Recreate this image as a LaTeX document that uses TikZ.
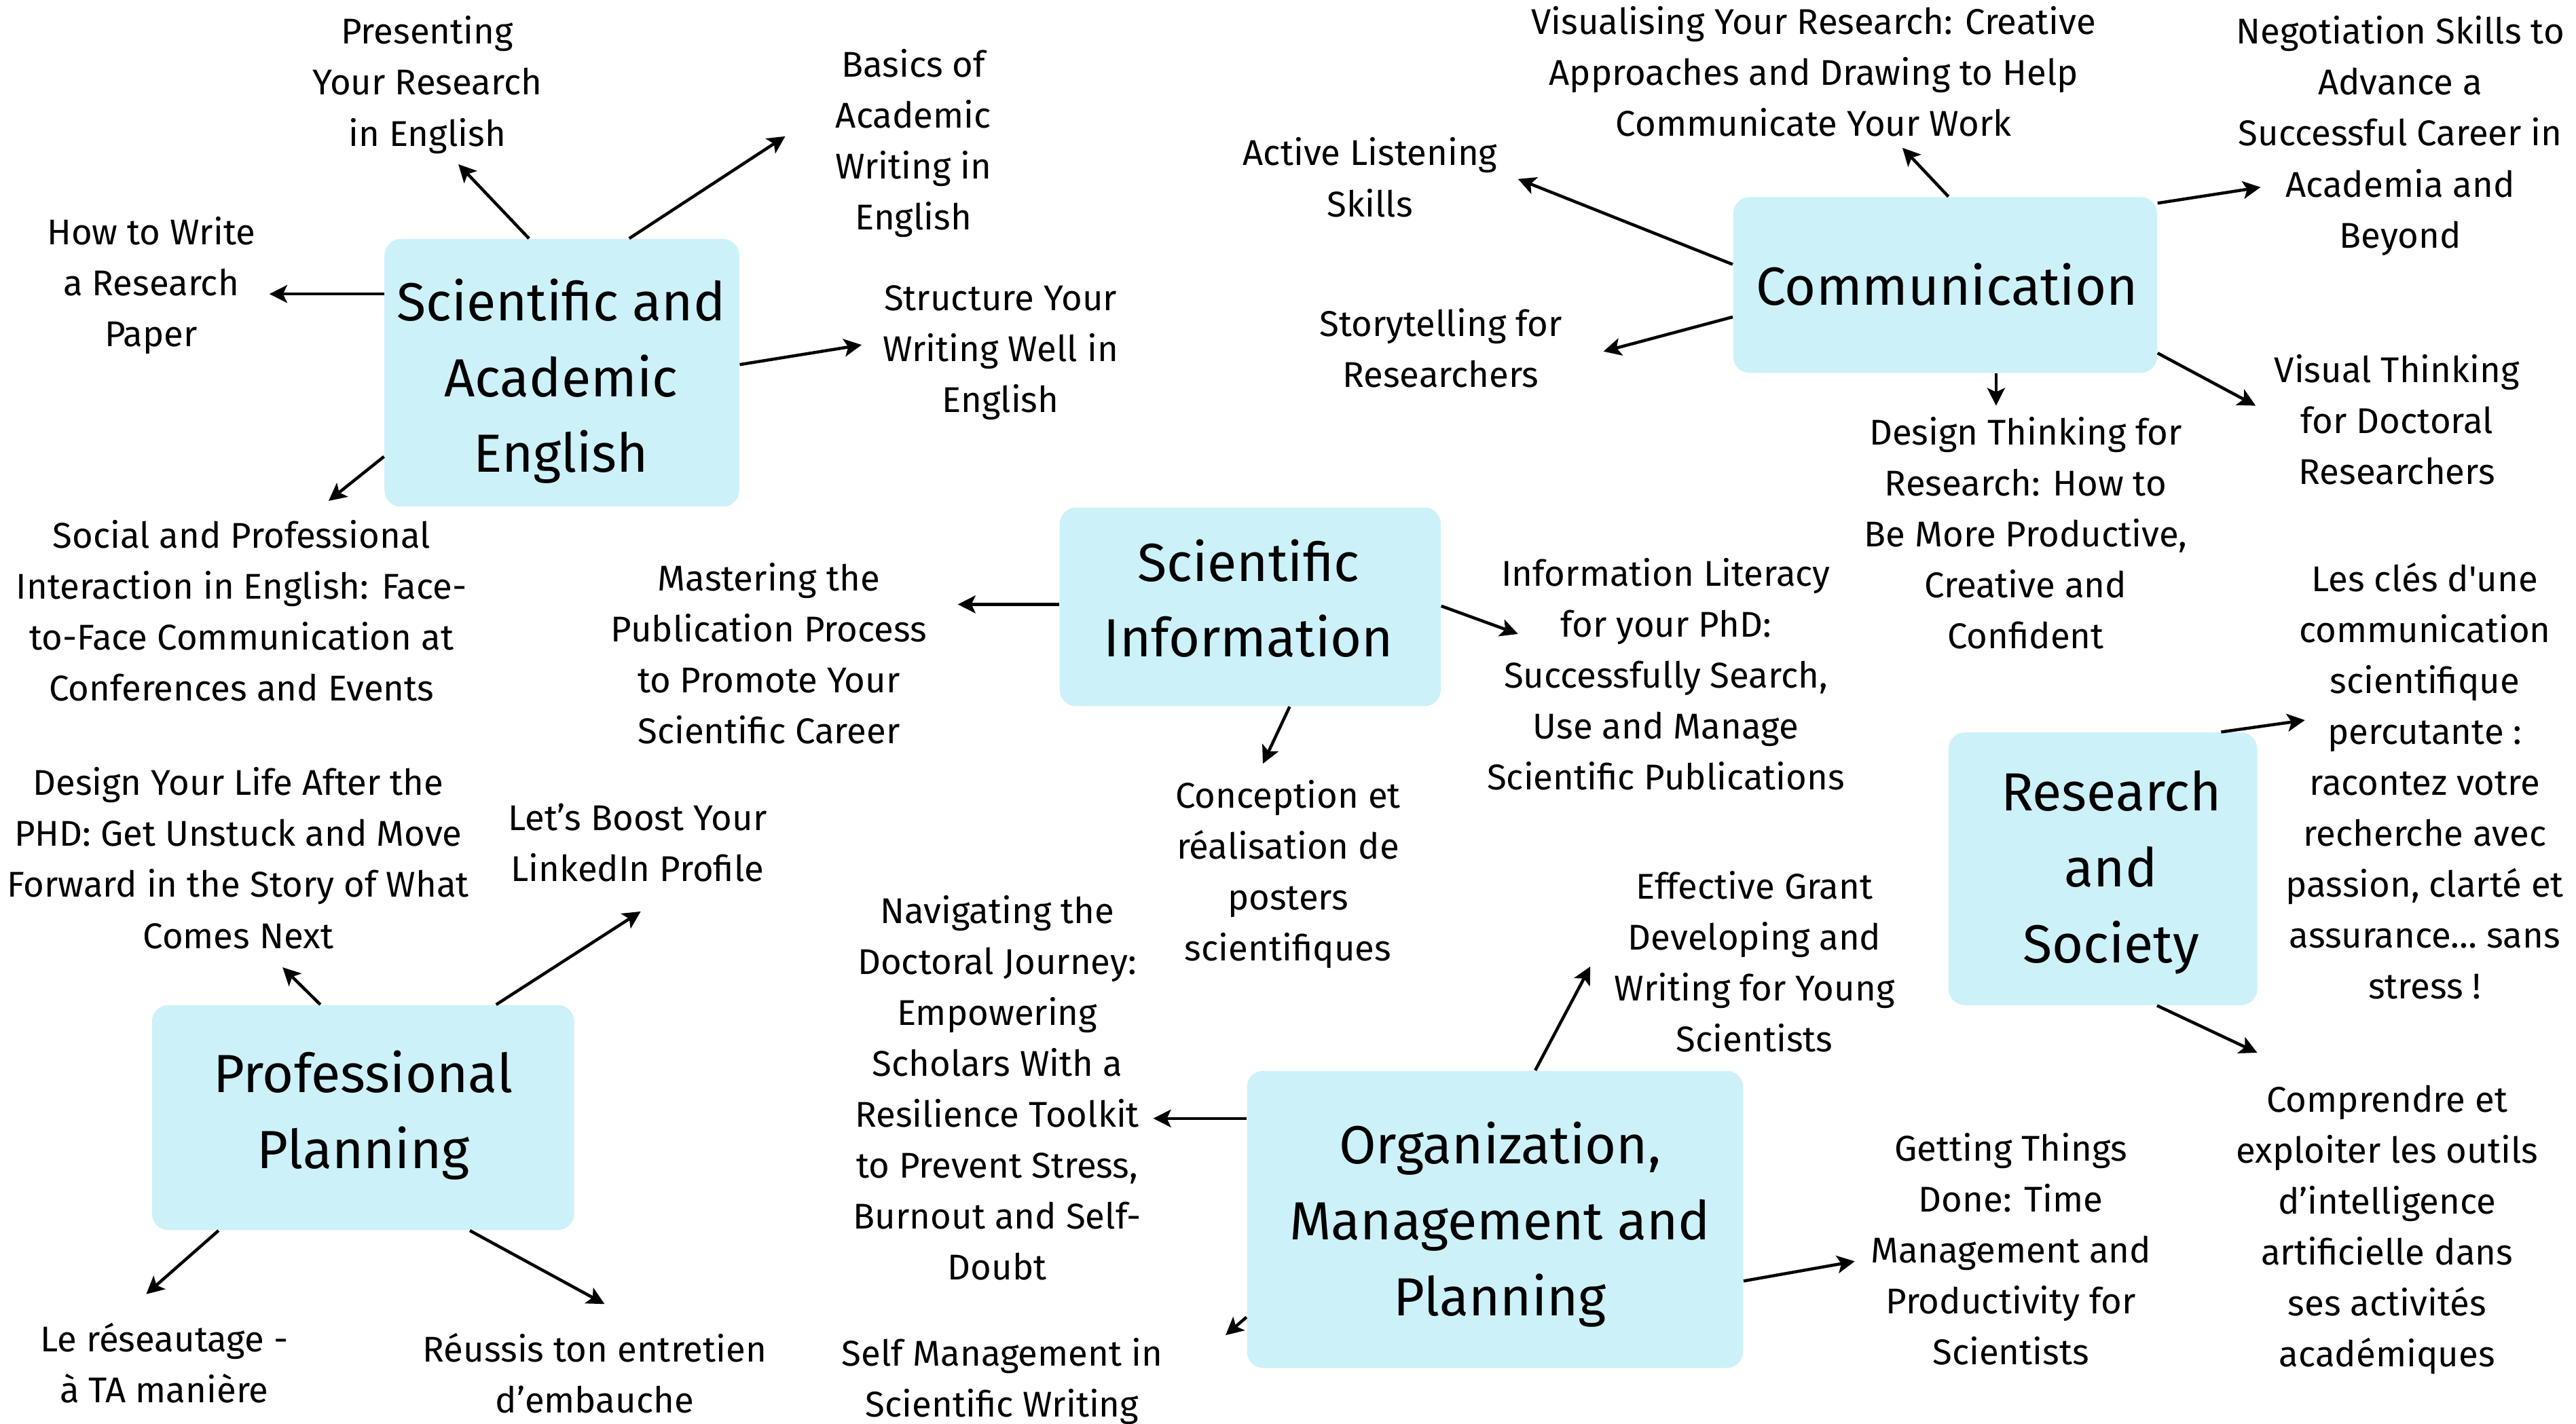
\documentclass[tikz,border=0pt]{standalone}
\usepackage{fontspec}
\setmainfont{Fira Sans}
\newfontfamily\nolig{Fira Sans}[Ligatures=TeXOff]
\usetikzlibrary{arrows.meta,calc}
\definecolor{boxc}{HTML}{CDF1F9}
\begin{document}
\begin{tikzpicture}[x=0.24196mm,y=-0.24196mm,
  box/.style={fill=boxc, rounded corners=2.4mm, inner sep=0pt},
  head/.style={align=center, inner sep=0pt, font=\fontsize{22.5}{31.8}\selectfont,
    execute at begin node=\strut, execute at end node=\strut},
  lbl/.style={align=center, inner sep=0pt, font=\fontsize{15}{21.35}\selectfont,
    execute at begin node=\strut, execute at end node=\strut},
  arr/.style={line width=0.45mm, -{Stealth[length=2.6mm,width=2.6mm,inset=0.6mm]}}]
\useasboundingbox (0,0) rectangle (1568,867);

% ---------- boxes ----------
\node[box, minimum width=52.26mm, minimum height=39.44mm] (sae) at (342,227) {};
\node[box, minimum width=62.43mm, minimum height=25.89mm] (com) at (1184,173.5) {};
\node[box, minimum width=56.13mm, minimum height=29.28mm] (sci) at (761,369.5) {};
\node[box, minimum width=45.49mm, minimum height=40.17mm] (res) at (1280,529) {};
\node[box, minimum width=62.18mm, minimum height=33.15mm] (pro) at (221,680.5) {};
\node[box, minimum width=73.07mm, minimum height=43.79mm] (org) at (910,742.5) {};

% ---------- box titles ----------
\node[head] (saeT) at (341.5,235.6) {Scientific and\\Academic\\English};
\node[head] (comT) at (1185,176.6) {Communication};
\node[head] (sciT) at (760,371.1) {Scientific\\Information};
\node[head] (resT) at (1285,534.6) {Research\\and\\Society};
\node[head] (proT) at (221,682.6) {Professional\\Planning};
\node[head] (orgT) at (913,749.1) {Organization,\\Management and\\Planning};

% ---------- labels ----------
\node[lbl] (presenting) at (260,54) {Presenting\\Your Research\\in English};
\node[lbl] (basics) at (556,89.5) {Basics of\\Academic\\Writing in\\English};
\node[lbl] (howto) at (92,176) {How to Write\\a Research\\Paper};
\node[lbl] (structure) at (609,217) {Structure Your\\Writing Well in\\English};
\node[lbl] (social) at (147,376.5) {Social and Professional\\Interaction in English: Face-\\to-Face Communication at\\Conferences and Events};

\node[lbl] (visualising) at (1104,48) {Visualising Your Research: Creative\\Approaches and Drawing to Help\\Communicate Your Work};
\node[lbl] (negotiation) at (1461,85) {Negotiation Skills to\\Advance a\\Successful Career in\\Academia and\\Beyond};
\node[lbl] (active) at (834,112.5) {Active Listening\\Skills};
\node[lbl] (story) at (877,216.5) {Storytelling for\\Researchers};
\node[lbl] (design) at (1233,329) {Design Thinking for\\Research: How to\\Be More Productive,\\Creative and\\Confident};
\node[lbl] (visual) at (1459,260) {Visual Thinking\\for Doctoral\\Researchers};

\node[lbl] (mastering) at (468,402.5) {Mastering the\\Publication Process\\to Promote Your\\Scientific Career};
\node[lbl] (infolit) at (1014,415) {Information Literacy\\for your PhD:\\Successfully Search,\\Use and Manage\\Scientific Publications};
\node[lbl] (conception) at (784,534.5) {Conception et\\réalisation de\\posters\\scientifiques};

\node[lbl] (cles) at (1476,480) {Les clés {\nolig d'une}\\communication\\scientifique\\percutante :\\racontez votre\\recherche avec\\passion, clarté et\\assurance… sans\\stress !};
\node[lbl] (comprendre) at (1453,751) {Comprendre et\\exploiter les outils\\d’intelligence\\artificielle dans\\ses activités\\académiques};

\node[lbl] (lifeafter) at (145,527) {Design Your Life After the\\PHD: Get Unstuck and Move\\Forward in the Story of What\\Comes Next};
\node[lbl] (linkedin) at (388,517.5) {Let’s Boost Your\\LinkedIn Profile};
\node[lbl] (reseau) at (100,834.5) {Le réseautage -\\à TA manière};
\node[lbl] (reussis) at (362,840.5) {Réussis ton entretien\\d’embauche};

\node[lbl] (navigating) at (607,667) {Navigating the\\Doctoral Journey:\\Empowering\\Scholars With a\\Resilience Toolkit\\to Prevent Stress,\\Burnout and Self-\\Doubt};
\node[lbl] (grant) at (1068,590) {Effective Grant\\Developing and\\Writing for Young\\Scientists};
\node[lbl] (getting) at (1224,765) {Getting Things\\Done: Time\\Management and\\Productivity for\\Scientists};
\node[lbl] (selfman) at (610,843.5) {Self Management in\\Scientific Writing};

% ---------- arrow tips ----------
\coordinate (tPresenting) at (279,100);
\coordinate (tBasics) at (478,83);
\coordinate (tHowto) at (164,179);
\coordinate (tStructure) at (524.5,210);
\coordinate (tSocial) at (200,305);
\coordinate (tVisualising) at (1158,90);
\coordinate (tNegotiation) at (1376,114);
\coordinate (tActive) at (924,109);
\coordinate (tStory) at (976,214);
\coordinate (tDesign) at (1215,247);
\coordinate (tVisual) at (1373,247);
\coordinate (tMastering) at (583,368);
\coordinate (tInfolit) at (924,386);
\coordinate (tConception) at (768.7,465);
\coordinate (tCles) at (1403,438.5);
\coordinate (tComprendre) at (1374,641);
\coordinate (tLife) at (172,589);
\coordinate (tLinkedin) at (390,555);
\coordinate (tReseau) at (89,788);
\coordinate (tReussis) at (368,794);
\coordinate (tNavigating) at (702,681);
\coordinate (tGrant) at (968,588.5);
\coordinate (tGetting) at (1129,768);
\coordinate (tSelf) at (746,813);

% ---------- arrows ----------
\draw[arr] ($(sae.north)+(-20,0)$) -- (tPresenting);
\draw[arr] ($(sae.north)+(41,0)$) -- (tBasics);
\draw[arr] ($(sae.west)+(0,-48)$) -- (tHowto);
\draw[arr] ($(sae.east)+(0,-5)$) -- (tStructure);
\draw[arr] ($(sae.west)+(0,51)$) -- (tSocial);

\draw[arr] ($(com.north)+(2,0)$) -- (tVisualising);
\draw[arr] ($(com.north east)+(0,4)$) -- (tNegotiation);
\draw[arr] ($(com.west)+(0,-12.5)$) -- (tActive);
\draw[arr] ($(com.west)+(0,19.5)$) -- (tStory);
\draw[arr] ($(com.south)+(31,0)$) -- (tDesign);
\draw[arr] ($(com.east)+(0,41.5)$) -- (tVisual);

\draw[arr] ($(sci.west)+(0,-1.5)$) -- (tMastering);
\draw[arr] ($(sci.east)+(0,-0.5)$) -- (tInfolit);
\draw[arr] ($(sci.south)+(24,0)$) -- (tConception);

\draw[arr] ($(res.north)+(72,0)$) -- (tCles);
\draw[arr] ($(res.south)+(33,0)$) -- (tComprendre);

\draw[arr] ($(pro.north)+(-26,0)$) -- (tLife);
\draw[arr] ($(pro.north)+(81,0)$) -- (tLinkedin);
\draw[arr] ($(pro.south)+(-88,0)$) -- (tReseau);
\draw[arr] ($(pro.south)+(65,0)$) -- (tReussis);

\draw[arr] ($(org.west)+(0,-61.5)$) -- (tNavigating);
\draw[arr] ($(org.north)+(24.5,0)$) -- (tGrant);
\draw[arr] ($(org.east)+(0,37.5)$) -- (tGetting);
\draw[arr] ($(org.west)+(0,59.5)$) -- (tSelf);
\end{tikzpicture}
\end{document}
